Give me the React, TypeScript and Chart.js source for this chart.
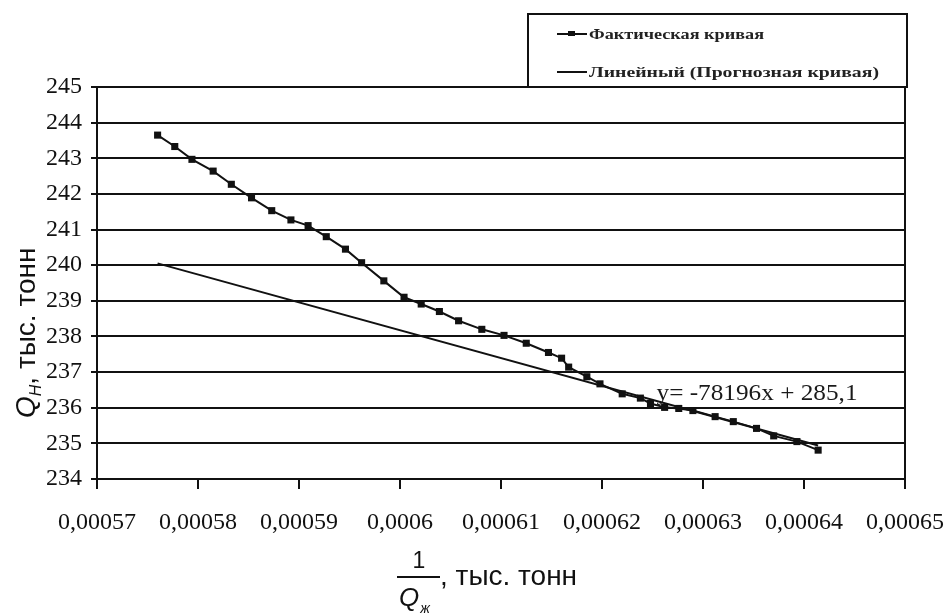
import React, { useEffect, useRef } from "react";
import { Chart, registerables } from "chart.js";

Chart.register(...registerables);

// ---- Data ----
const factX = [
  0.000576, 0.0005777, 0.0005794, 0.0005815, 0.0005833, 0.0005853, 0.0005873,
  0.0005892, 0.0005909, 0.0005927, 0.0005946, 0.0005962, 0.0005984, 0.0006004,
  0.0006021, 0.0006039, 0.0006058, 0.0006081, 0.0006103, 0.0006125, 0.0006147,
  0.000616, 0.0006167, 0.0006185, 0.0006198, 0.000622, 0.0006238, 0.0006248,
  0.0006262, 0.0006276, 0.000629, 0.0006312, 0.000633, 0.0006353, 0.000637,
  0.0006393, 0.0006414,
];
const factY = [
  243.65, 243.33, 242.97, 242.64, 242.27, 241.89, 241.53, 241.27, 241.11,
  240.8, 240.45, 240.07, 239.56, 239.1, 238.91, 238.7, 238.44, 238.2, 238.03,
  237.81, 237.55, 237.39, 237.14, 236.87, 236.67, 236.39, 236.27, 236.12,
  236.01, 235.98, 235.92, 235.75, 235.61, 235.42, 235.21, 235.05, 234.81,
];
const trendX = [0.000576, 0.0006414];
const trendY = [240.05, 234.94];

const xTicks = [
  0.00057, 0.00058, 0.00059, 0.0006, 0.00061, 0.00062, 0.00063, 0.00064, 0.00065,
];
const xTickLabels = [
  "0,00057", "0,00058", "0,00059", "0,0006", "0,00061", "0,00062", "0,00063",
  "0,00064", "0,00065",
];
const yTicks = [234, 235, 236, 237, 238, 239, 240, 241, 242, 243, 244, 245];
const yTickLabels = ["234", "235", "236", "237", "238", "239", "240", "241", "242", "243", "244", "245"];

const seriesNames = ["Фактическая кривая", "Линейный (Прогнозная кривая)"];
const equationText = "y= -78196x + 285,1";
const equationAnchor = [0.0006254, 236.22];
const yTitleParts = ["Q", "Н", ", тыс. тонн"];
const xTitleParts = ["1", "Q", "ж", ", тыс. тонн"];

const INK = "#111";

const decorPlugin = {
  id: "decor",
  afterDraw(chart: any) {
    const ctx: CanvasRenderingContext2D = chart.ctx;
    const area = chart.chartArea;
    const xs = chart.scales.x;
    const ys = chart.scales.y;
    ctx.save();

    // right border of plot
    ctx.strokeStyle = INK;
    ctx.lineWidth = 2;
    ctx.beginPath();
    ctx.moveTo(area.right, area.top);
    ctx.lineTo(area.right, area.bottom + 10);
    ctx.stroke();

    // equation
    ctx.fillStyle = "#1a1a1a";
    ctx.font = "24px 'Liberation Serif'";
    ctx.textAlign = "left";
    ctx.textBaseline = "alphabetic";
    const ew = ctx.measureText(equationText).width;
    ctx.save();
    ctx.translate(xs.getPixelForValue(equationAnchor[0]), ys.getPixelForValue(equationAnchor[1]));
    ctx.scale(201 / ew, 1);
    ctx.fillText(equationText, 0, 0);
    ctx.restore();

    // legend box
    const lx = 528, ly = 14, lw = 379, lh = 73;
    ctx.fillStyle = "#fff";
    ctx.fillRect(lx, ly, lw, lh);
    ctx.strokeStyle = INK;
    ctx.lineWidth = 2;
    ctx.strokeRect(lx, ly, lw, lh);

    const rows = [
      { y: 34, w: 175, marker: true },
      { y: 72, w: 290, marker: false },
    ];
    rows.forEach((r, i) => {
      ctx.strokeStyle = INK;
      ctx.lineWidth = 2;
      ctx.beginPath();
      ctx.moveTo(557, r.y);
      ctx.lineTo(587, r.y);
      ctx.stroke();
      if (r.marker) {
        ctx.fillStyle = INK;
        ctx.fillRect(568, r.y - 3, 7, 5);
      }
      ctx.font = "bold 14px 'Liberation Serif'";
      ctx.fillStyle = "#222";
      ctx.textAlign = "left";
      ctx.textBaseline = "middle";
      const m = ctx.measureText(seriesNames[i]).width;
      ctx.save();
      ctx.translate(589, r.y + 1);
      ctx.scale(r.w / m, 1);
      ctx.fillText(seriesNames[i], 0, 0);
      ctx.restore();
    });

    // y axis title (rotated)
    ctx.save();
    ctx.translate(35, 418);
    ctx.rotate(-Math.PI / 2);
    ctx.fillStyle = "#111";
    ctx.textAlign = "left";
    ctx.textBaseline = "alphabetic";
    ctx.font = "italic 28px 'Liberation Sans'";
    ctx.fillText(yTitleParts[0], 0, 0);
    let u = ctx.measureText(yTitleParts[0]).width;
    ctx.font = "italic 16px 'Liberation Sans'";
    ctx.fillText(yTitleParts[1], u, 6);
    u += ctx.measureText(yTitleParts[1]).width;
    ctx.font = "28px 'Liberation Sans'";
    ctx.fillText(yTitleParts[2], u, 0);
    ctx.restore();

    // x axis title (fraction)
    ctx.fillStyle = "#111";
    ctx.textBaseline = "alphabetic";
    ctx.font = "23px 'Liberation Sans'";
    ctx.textAlign = "center";
    ctx.fillText(xTitleParts[0], 419, 568);
    ctx.strokeStyle = "#111";
    ctx.lineWidth = 2;
    ctx.beginPath();
    ctx.moveTo(397, 577);
    ctx.lineTo(440, 577);
    ctx.stroke();
    ctx.textAlign = "left";
    ctx.font = "italic 26px 'Liberation Sans'";
    ctx.fillText(xTitleParts[1], 399, 606);
    const qw = ctx.measureText(xTitleParts[1]).width;
    ctx.font = "italic 14px 'Liberation Sans'";
    ctx.fillText(xTitleParts[2], 399 + qw + 1, 613);
    ctx.font = "28px 'Liberation Sans'";
    ctx.fillText(xTitleParts[3], 440, 585);

    ctx.restore();
  },
};

export default function App() {
  const ref = useRef<HTMLCanvasElement | null>(null);

  useEffect(() => {
    if (!ref.current) return;
    const chart = new Chart(ref.current, {
      type: "scatter",
      data: {
        datasets: [
          {
            label: seriesNames[0],
            data: factX.map((x, i) => ({ x, y: factY[i] })),
            showLine: true,
            borderColor: INK,
            backgroundColor: INK,
            borderWidth: 2,
            pointStyle: "rect",
            pointRadius: 5,
            pointBorderWidth: 0,
          },
          {
            label: seriesNames[1],
            data: trendX.map((x, i) => ({ x, y: trendY[i] })),
            showLine: true,
            borderColor: INK,
            backgroundColor: INK,
            borderWidth: 2,
            pointRadius: 0,
          },
        ],
      },
      options: {
        responsive: false,
        animation: false,
        layout: { padding: { left: 0, top: 87, right: 45, bottom: 0 } },
        plugins: {
          legend: { display: false },
          tooltip: { enabled: false },
        },
        scales: {
          x: {
            type: "linear",
            min: 0.00057,
            max: 0.00065,
            afterBuildTicks: (scale: any) => {
              scale.ticks = xTicks.map((v) => ({ value: v }));
            },
            afterFit: (scale: any) => {
              scale.height = 134;
              scale.paddingLeft = 0;
              scale.paddingRight = 0;
            },
            ticks: {
              autoSkip: false,
              maxRotation: 0,
              minRotation: 0,
              padding: 19,
              color: "#111",
              font: { family: "'Liberation Serif'", size: 24 },
              callback: (_v: any, i: number) => xTickLabels[i],
            },
            grid: {
              drawOnChartArea: false,
              drawTicks: true,
              tickLength: 10,
              color: INK,
              lineWidth: 2,
            },
            border: { display: true, color: INK, width: 2 },
          },
          y: {
            type: "linear",
            min: 234,
            max: 245,
            afterBuildTicks: (scale: any) => {
              scale.ticks = yTicks.map((v) => ({ value: v }));
            },
            afterFit: (scale: any) => {
              scale.width = 97;
              scale.paddingTop = 0;
              scale.paddingBottom = 0;
            },
            ticks: {
              autoSkip: false,
              padding: 9,
              color: "#111",
              font: { family: "'Liberation Serif'", size: 24 },
              callback: (_v: any, i: number) => yTickLabels[i],
            },
            grid: {
              drawOnChartArea: true,
              drawTicks: true,
              tickLength: 6,
              color: INK,
              lineWidth: 2,
            },
            border: { display: true, color: INK, width: 2 },
          },
        },
      },
      plugins: [decorPlugin],
    });
    return () => chart.destroy();
  }, []);

  return (
    <div style={{ position: "absolute", left: 0, top: 0, width: 950, height: 613, background: "#fff" }}>
      <canvas ref={ref} width={950} height={613} style={{ display: "block" }} />
    </div>
  );
}
